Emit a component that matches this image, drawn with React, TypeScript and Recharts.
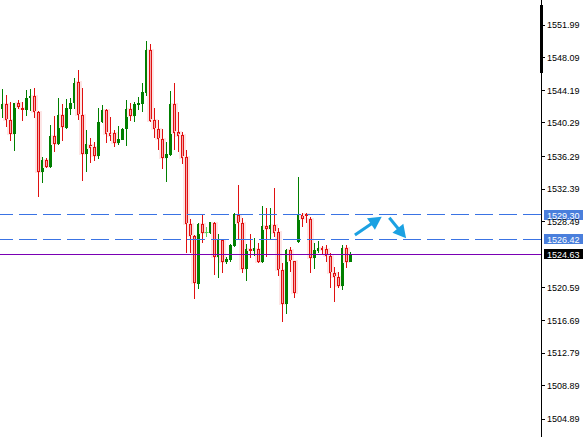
import { Bar, ComposedChart, ReferenceLine, XAxis, YAxis } from 'recharts';

// OHLC, one entry per candle
const opens = [
  1541.99, 1542.55, 1540.60, 1539.00, 1542.67, 1542.11, 1541.87, 1543.23, 1543.47, 1541.63,
  1534.39, 1535.86, 1535.03, 1538.73, 1537.74, 1541.24, 1539.72, 1541.96, 1542.64, 1545.15,
  1541.20, 1536.54, 1537.65, 1537.45, 1536.38, 1540.37, 1541.84, 1539.09, 1539.09, 1537.86,
  1538.29, 1539.53, 1541.96, 1541.15, 1542.43, 1542.59, 1543.90, 1549.00, 1540.60, 1539.53,
  1538.34, 1536.14, 1536.46, 1542.52, 1539.17, 1538.85, 1536.22, 1528.18, 1526.82, 1521.01,
  1528.18, 1527.22, 1527.11, 1528.37, 1524.31, 1526.30, 1523.71, 1523.92, 1525.59, 1529.26,
  1528.37, 1522.80, 1525.27, 1525.03, 1525.27, 1523.64, 1527.98, 1527.58, 1528.10, 1527.26,
  1522.72, 1518.62, 1525.11, 1523.80, 1526.03, 1529.29, 1529.37, 1528.81, 1524.19, 1525.03,
  1525.31, 1525.19, 1524.39, 1522.33, 1521.92, 1520.81, 1525.31, 1523.71,
];
const highs = [
  1544.34, 1543.63, 1542.83, 1542.73, 1543.03, 1542.83, 1544.22, 1544.34, 1544.50, 1541.70,
  1536.26, 1536.07, 1540.04, 1541.12, 1543.23, 1542.55, 1543.15, 1543.23, 1545.69, 1546.61,
  1544.50, 1539.45, 1538.45, 1538.05, 1542.11, 1542.43, 1541.96, 1541.00, 1539.48, 1539.92,
  1539.72, 1543.03, 1542.71, 1542.83, 1543.39, 1545.03, 1550.08, 1549.72, 1542.11, 1540.64,
  1539.53, 1538.05, 1544.11, 1545.03, 1541.63, 1539.24, 1537.06, 1528.78, 1526.90, 1528.37,
  1529.37, 1527.82, 1528.49, 1528.49, 1527.02, 1526.35, 1524.31, 1525.83, 1529.49, 1532.88,
  1528.90, 1525.83, 1527.02, 1526.51, 1525.91, 1530.37, 1530.09, 1530.09, 1532.48, 1527.70,
  1523.52, 1525.19, 1525.43, 1523.85, 1533.87, 1529.49, 1529.49, 1529.09, 1525.91, 1526.19,
  1525.62, 1525.71, 1524.79, 1523.11, 1522.45, 1525.71, 1525.71, 1524.91,
];
const lows = [
  1540.84, 1539.84, 1538.17, 1536.97, 1541.96, 1540.56, 1541.12, 1541.72, 1540.84, 1531.48,
  1533.15, 1534.87, 1534.94, 1536.85, 1537.65, 1538.13, 1539.57, 1541.24, 1541.96, 1540.64,
  1533.39, 1534.46, 1535.47, 1535.74, 1535.98, 1540.25, 1537.93, 1538.13, 1537.42, 1537.65,
  1538.22, 1537.57, 1540.52, 1540.44, 1541.84, 1541.56, 1543.54, 1540.44, 1538.45, 1537.06,
  1534.79, 1533.27, 1536.38, 1537.06, 1536.85, 1535.35, 1524.72, 1524.72, 1519.22, 1520.41,
  1525.98, 1526.63, 1526.99, 1522.12, 1521.73, 1522.40, 1523.44, 1523.71, 1525.50, 1526.30,
  1522.40, 1521.44, 1524.15, 1524.39, 1523.59, 1523.56, 1524.31, 1526.30, 1526.70, 1522.00,
  1516.54, 1517.46, 1522.52, 1519.34, 1525.98, 1527.82, 1528.30, 1522.33, 1522.80, 1524.79,
  1524.63, 1523.71, 1520.53, 1518.93, 1520.53, 1520.33, 1522.99, 1523.64,
];
const closes = [
  1542.55, 1540.60, 1539.00, 1542.64, 1542.23, 1541.92, 1543.23, 1543.51, 1541.56, 1534.39,
  1535.86, 1535.06, 1538.73, 1537.81, 1541.24, 1539.84, 1542.07, 1542.64, 1545.03, 1541.20,
  1536.54, 1537.74, 1537.26, 1536.38, 1540.37, 1541.84, 1539.00, 1538.77, 1537.93, 1538.37,
  1539.53, 1541.96, 1541.15, 1542.52, 1542.64, 1543.95, 1549.00, 1540.56, 1539.53, 1538.34,
  1536.14, 1536.58, 1542.52, 1539.12, 1538.77, 1536.14, 1528.18, 1526.82, 1521.13, 1528.22,
  1527.11, 1527.22, 1528.42, 1524.31, 1526.30, 1523.71, 1524.03, 1525.67, 1529.37, 1528.30,
  1522.80, 1525.23, 1525.11, 1525.35, 1523.64, 1527.98, 1527.58, 1528.10, 1527.18, 1522.72,
  1518.62, 1525.11, 1523.80, 1520.01, 1529.29, 1528.78, 1529.29, 1524.19, 1525.11, 1525.31,
  1525.11, 1524.39, 1522.33, 1521.92, 1520.81, 1525.31, 1523.71, 1524.63,
];

const priceTicks = [1551.99, 1548.09, 1544.19, 1540.29, 1536.29, 1532.39, 1528.49, 1520.59, 1516.69, 1512.79, 1508.89, 1504.89];
const dashedLevels = [1529.30, 1526.42];
const bidPrice = 1524.63;

// hand drawn arrows: [fromIdx, fromPrice, toIdx, toPrice]
const arrows = [
  [88.1, 1526.90, 94.8, 1529.09],
  [96.7, 1528.97, 100.9, 1526.51],
];

const data = opens.map((o, i) => ({
  idx: i,
  open: o,
  close: closes[i],
  range: [lows[i], highs[i]],
}));

const GREEN = '#007f00';
const RED = '#e01010';
const PINK = '#f6a9a9';
const BLUE = '#3a73e4';
const ARROW = '#1ba1e2';

const Candle = (props: any) => {
  const { x, y, width, height, payload } = props;
  const [low, high] = payload.range;
  const top = Math.min(y, y + height);
  const h = Math.abs(height);
  const ppu = high === low ? 0 : h / (high - low);
  const yOf = (v: number) => top + (high - v) * ppu;
  const cx = Math.round(x + width / 2) + 0.5;
  const { open, close } = payload;
  const yo = yOf(open);
  const yc = yOf(close);
  const bTop = Math.round(Math.min(yo, yc));
  const bBot = Math.round(Math.max(yo, yc));
  const wTop = Math.round(top);
  const wBot = Math.round(top + h);

  if (open === close) {
    const c = '#5cd65c';
    return (
      <g>
        <line x1={cx} x2={cx} y1={wTop} y2={wBot} stroke={c} />
        <line x1={cx - 2} x2={cx + 2} y1={bTop + 0.5} y2={bTop + 0.5} stroke={c} />
      </g>
    );
  }
  if (close > open) {
    return (
      <g shapeRendering="crispEdges">
        <line x1={cx} x2={cx} y1={wTop} y2={wBot} stroke={GREEN} />
        <rect x={cx - 1.5} y={bTop} width={3} height={Math.max(1, bBot - bTop)} fill={GREEN} />
      </g>
    );
  }
  return (
    <g shapeRendering="crispEdges">
      <rect x={cx - 3.5} y={bTop - 1} width={7} height={bBot - bTop + 2} fill="#fde6e6" />
      <line x1={cx} x2={cx} y1={wTop} y2={wBot} stroke={RED} />
      <rect x={cx - 1} y={bTop + 0.5} width={2} height={Math.max(1, bBot - bTop - 1)} fill={PINK} stroke={RED} />
    </g>
  );
};

const priceTag = (value: number, bg: string) => (props: any) => {
  const vb = props.viewBox;
  const x = vb.x + vb.width + 3;
  const y = Math.round(vb.y);
  return (
    <g>
      <rect x={x} y={y - 5} width={39} height={10} fill={bg} />
      <text x={x + 3} y={y + 3.5} fill="#fff" fontSize={9} fontFamily="Liberation Sans, Arial, sans-serif">
        {value.toFixed(2)}
      </text>
    </g>
  );
};

const arrowShape = (props: any) => {
  const { x1, y1, x2, y2 } = props;
  const dx = x2 - x1;
  const dy = y2 - y1;
  const len = Math.sqrt(dx * dx + dy * dy);
  const ux = dx / len;
  const uy = dy / len;
  const head = 13;
  const half = 7;
  const bx = x2 - ux * head;
  const by = y2 - uy * head;
  return (
    <g>
      <line x1={x1} y1={y1} x2={bx + ux} y2={by + uy} stroke={ARROW} strokeWidth={3} />
      <polygon
        points={`${x2},${y2} ${bx - uy * half},${by + ux * half} ${bx + uy * half},${by - ux * half}`}
        fill={ARROW}
      />
    </g>
  );
};

export default function App() {
  return (
    <div style={{ position: 'absolute', left: 0, top: 0, width: 586, height: 437, background: '#fff' }}>
      <ComposedChart width={586} height={437} data={data} margin={{ top: 0, right: 0, bottom: 0, left: 0 }}>
        <XAxis dataKey="idx" type="number" domain={[-0.625, 134.625]} allowDataOverflow hide />
        <YAxis
          orientation="right"
          type="number"
          width={45}
          domain={[1502.77, 1554.98]}
          allowDataOverflow
          ticks={priceTicks}
          interval={0}
          tickFormatter={(v: number) => v.toFixed(2)}
          tickSize={4}
          tickMargin={2}
          axisLine={{ stroke: '#000', shapeRendering: 'crispEdges' }}
          tickLine={{ stroke: '#000', shapeRendering: 'crispEdges' }}
          tick={{ fill: '#000', fontSize: 9, fontFamily: 'Liberation Sans, Arial, sans-serif', textAnchor: 'start' }}
        />
        {dashedLevels.map((lvl) => (
          <ReferenceLine
            key={lvl}
            y={lvl}
            stroke={BLUE}
            strokeDasharray="18 6"
            shapeRendering="crispEdges"
            label={priceTag(lvl, '#4a7fdc')}
          />
        ))}
        <ReferenceLine y={bidPrice} stroke="#7a00b4" shapeRendering="crispEdges" label={priceTag(bidPrice, '#000')} />
        <Bar dataKey="range" barSize={3} shape={Candle} isAnimationActive={false} />
        {arrows.map((a, i) => (
          <ReferenceLine
            key={i}
            segment={[{ x: a[0], y: a[1] }, { x: a[2], y: a[3] }]}
            shape={arrowShape}
          />
        ))}
      </ComposedChart>
      <div style={{ position: 'absolute', left: 540, top: 5, width: 3, height: 68, background: '#000' }} />
    </div>
  );
}
